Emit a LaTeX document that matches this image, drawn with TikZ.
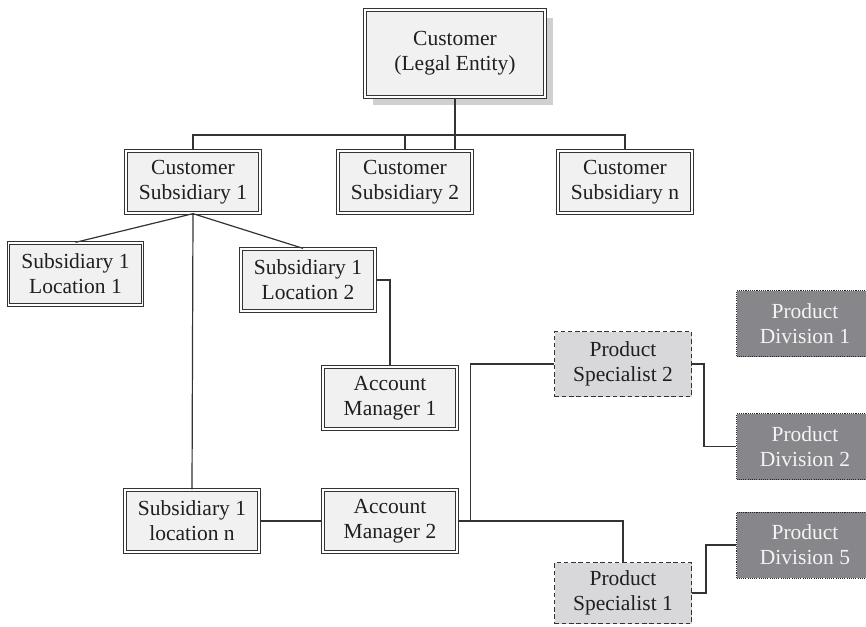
\documentclass[tikz,border=0pt]{standalone}
\usepackage{fontspec}
\setmainfont{Liberation Serif}
\usetikzlibrary{shadows}
\definecolor{boxfill}{HTML}{F1F1F1}
\definecolor{edge}{HTML}{333333}
\definecolor{shade}{HTML}{D0D0D2}
\definecolor{specfill}{HTML}{D8D8DA}
\definecolor{divfill}{HTML}{87878B}
\definecolor{divtext}{HTML}{F4F4F4}
\begin{document}
\begin{tikzpicture}[x=1pt,y=-1pt,
  lbl/.style={align=center,inner sep=0pt,font=\fontsize{21.5}{25}\selectfont,text=black!88},
  orgbox/.style={lbl,fill=boxfill,draw=edge,line width=1.1pt,double=white,
    double distance=1.4pt,minimum width=134.2pt,minimum height=62.2pt},
  specbox/.style={lbl,fill=specfill,draw=edge,line width=1.1pt,
    dash pattern=on 4.5pt off 2.8pt,minimum width=137pt,minimum height=65pt},
  divbox/.style={lbl,fill=divfill,draw=black!85,line width=1pt,
    dash pattern=on 1.1pt off 1.1pt,text=divtext,minimum width=137pt,minimum height=66pt},
  link/.style={draw=edge,line width=1.2pt}]
\useasboundingbox (0,0) rectangle (866,626);

% top entity with its flat shadow
\node[orgbox,minimum width=180.2pt,minimum height=87.2pt,
  drop shadow={fill=shade,opacity=1,shadow xshift=8pt,shadow yshift=-8pt}]
  (legal) at (455,53.5) {Customer\\(Legal Entity)};

% subsidiaries
\node[orgbox] (sub1) at (193,182) {Customer\\Subsidiary 1};
\node[orgbox] (sub2) at (405,182) {Customer\\Subsidiary 2};
\node[orgbox] (subn) at (625,182) {Customer\\Subsidiary n};

% locations and account managers
\node[orgbox] (loc1) at (75.5,274) {Subsidiary 1\\Location 1};
\node[orgbox] (loc2) at (308,280) {Subsidiary 1\\Location 2};
\node[orgbox] (am1) at (390,398) {Account\\Manager 1};
\node[orgbox] (locn) at (192,521) {Subsidiary 1\\location n};
\node[orgbox] (am2) at (390,521) {Account\\Manager 2};

% product specialists
\node[specbox] (ps2) at (623,364) {Product\\Specialist 2};
\node[specbox,minimum height=61pt] (ps1) at (623,593) {Product\\Specialist 1};

% product divisions
\node[divbox] (pd1) at (805,323.5) {Product\\Division 1};
\node[divbox] (pd2) at (805,446.5) {Product\\Division 2};
\node[divbox] (pd5) at (805,545) {Product\\Division 5};

% connectors
\coordinate (bus) at (455,135);
\draw[link] (legal.south) -- (legal.south |- sub2.north);
\draw[link] (sub1.north) |- (bus) -| (subn.north);
\draw[link] (sub2.north) -- (sub2.north |- bus);

\draw[link] (sub1.south) -- (loc1.north);
\draw[link] (sub1.south) -- ([xshift=-5pt]loc2.north);
\draw[link] (sub1.south) -- (locn.north);
\draw[link] (loc2.east) -| (am1.north);
\draw[link] (locn.east) -- (am2.west);
\draw[link] (am2.east) -- ++(13,0) |- (ps2.west);
\draw[link] (am2.east) -| (ps1.north);
\draw[link] (ps2.east) -- ++(12,0) |- (pd2.west);
\draw[link] (ps1.east) -- ++(14,0) |- (pd5.west);
\end{tikzpicture}
\end{document}
